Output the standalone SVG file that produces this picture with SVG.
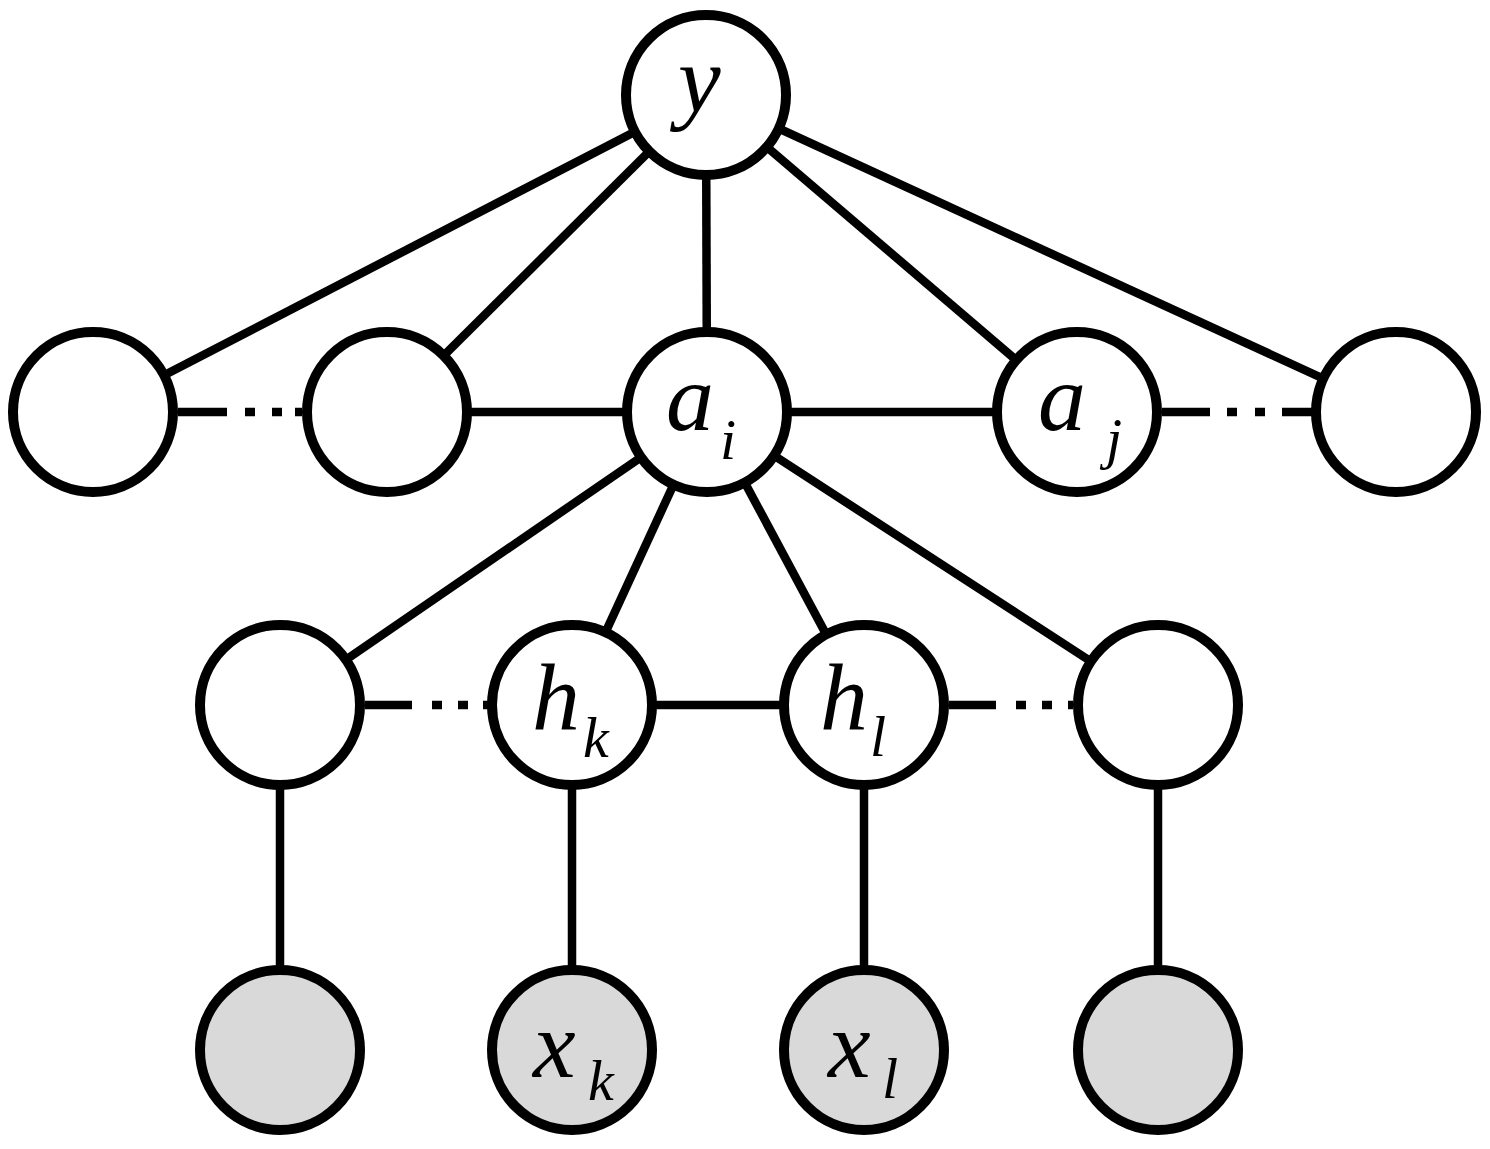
<svg xmlns="http://www.w3.org/2000/svg" width="1490" height="1149" viewBox="0 0 1490 1149">
<style>
.edge{stroke:#000;stroke-width:8.5;fill:none}
.node{stroke:#000;stroke-width:10;fill:#fff}
.obs{fill:#d9d9d9}
.lbl{font-family:"Liberation Serif","Times New Roman",serif;font-style:italic;font-size:96px;fill:#000}
.sub{font-size:58px}
</style>
<rect width="1490" height="1149" fill="#fff"/>
<g id="connectors">
<line class="edge" x1="706" y1="95" x2="93" y2="412"/>
<line class="edge" x1="706" y1="95" x2="387" y2="412"/>
<line class="edge" x1="706" y1="95" x2="707" y2="412"/>
<line class="edge" x1="706" y1="95" x2="1077" y2="412"/>
<line class="edge" x1="706" y1="95" x2="1396" y2="412"/>
<line class="edge" x1="387" y1="412" x2="1077" y2="412"/>
<line class="edge" x1="707" y1="412" x2="280" y2="705"/>
<line class="edge" x1="707" y1="412" x2="572" y2="705"/>
<line class="edge" x1="707" y1="412" x2="864" y2="705"/>
<line class="edge" x1="707" y1="412" x2="1158" y2="705"/>
<line class="edge" x1="572" y1="705" x2="864" y2="705"/>
<line class="edge" x1="280" y1="705" x2="280" y2="1050"/>
<line class="edge" x1="572" y1="705" x2="572" y2="1050"/>
<line class="edge" x1="864" y1="705" x2="864" y2="1050"/>
<line class="edge" x1="1158" y1="705" x2="1158" y2="1050"/>
<path class="edge" d="M178 412H227M245 412H255M272 412H282M295 412H302"/>
<path class="edge" d="M1162 412H1210M1227 412H1237M1255 412H1265M1282 412H1312"/>
<path class="edge" d="M365 705H412M432 705H442M458 705H468M483 705H488"/>
<path class="edge" d="M949 705H996M1016 705H1026M1042 705H1052M1068 705H1073"/>
</g>
<g id="node-y"><circle class="node" cx="706" cy="95" r="80"/><text class="lbl" x="678" y="112">y</text></g>
<g id="node-r2-1"><circle class="node" cx="93" cy="412" r="80"/></g>
<g id="node-r2-2"><circle class="node" cx="387" cy="412" r="80"/></g>
<g id="node-ai"><circle class="node" cx="707" cy="412" r="80"/><text class="lbl" x="666" y="430">a</text><text class="lbl sub" x="720" y="459">i</text></g>
<g id="node-aj"><circle class="node" cx="1077" cy="412" r="80"/><text class="lbl" x="1038" y="430">a</text><text class="lbl sub" x="1106" y="458">j</text></g>
<g id="node-r2-5"><circle class="node" cx="1396" cy="412" r="80"/></g>
<g id="node-r3-1"><circle class="node" cx="280" cy="705" r="80"/></g>
<g id="node-hk"><circle class="node" cx="572" cy="705" r="80"/><text class="lbl" x="532" y="730">h</text><text class="lbl sub" x="583" y="757">k</text></g>
<g id="node-hl"><circle class="node" cx="864" cy="705" r="80"/><text class="lbl" x="820" y="730">h</text><text class="lbl sub" x="870" y="756">l</text></g>
<g id="node-r3-4"><circle class="node" cx="1158" cy="705" r="80"/></g>
<g id="node-r4-1"><circle class="node obs" cx="280" cy="1050" r="80"/></g>
<g id="node-xk"><circle class="node obs" cx="572" cy="1050" r="80"/><text class="lbl" x="533" y="1077">x</text><text class="lbl sub" x="588" y="1100">k</text></g>
<g id="node-xl"><circle class="node obs" cx="864" cy="1050" r="80"/><text class="lbl" x="828" y="1077">x</text><text class="lbl sub" x="882" y="1098">l</text></g>
<g id="node-r4-4"><circle class="node obs" cx="1158" cy="1050" r="80"/></g>
</svg>
